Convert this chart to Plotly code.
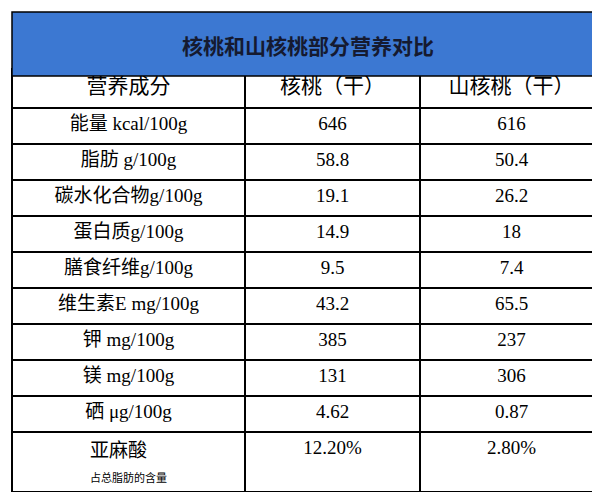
import plotly.graph_objects as go

title = "核桃和山核桃部分营养对比"
columns = ["营养成分", "核桃（干）", "山核桃（干）"]
nutrients = ["能量 kcal/100g", "脂肪 g/100g", "碳水化合物g/100g", "蛋白质g/100g",
             "膳食纤维g/100g", "维生素E mg/100g", "钾 mg/100g", "镁 mg/100g",
             "硒 μg/100g", "亚麻酸<br><span style='font-size:11px'>占总脂肪的含量</span>"]
walnut = ["646", "58.8", "19.1", "14.9", "9.5", "43.2", "385", "131", "4.62", "12.20%"]
hickory = ["616", "50.4", "26.2", "18", "7.4", "65.5", "237", "306", "0.87", "2.80%"]

W, H = 600, 497
FONT = "Liberation Serif, Noto Sans CJK SC, serif"

fig = go.Figure(go.Table(
    domain=dict(x=[4 / W, 595 / W], y=[0, 1 - 61 / H]),
    columnwidth=[233, 175, 183],
    header=dict(values=columns, height=39, align="center",
                fill_color="white", line=dict(color="black", width=1.5),
                font=dict(family=FONT, size=21, color="black")),
    cells=dict(values=[nutrients, walnut, hickory], height=36, align="center",
               fill_color="white", line=dict(color="black", width=1.5),
               font=dict(family=FONT, size=19, color="black")),
))

fig.add_shape(type="rect", xref="paper", yref="paper",
              x0=4 / W, x1=595 / W, y0=1 - 68 / H, y1=1 - 4 / H,
              fillcolor="#3c78d2", line=dict(color="black", width=1.5))
fig.add_annotation(text="<b>" + title + "</b>", xref="paper", yref="paper",
                   x=0.5, y=1 - 37 / H, yanchor="middle", showarrow=False,
                   font=dict(family="Noto Sans CJK SC", size=21, color="#151a30"))

fig.update_layout(width=W, height=H, margin=dict(l=0, r=0, t=0, b=0),
                  paper_bgcolor="white", plot_bgcolor="white")
fig.write_html("out.html")
